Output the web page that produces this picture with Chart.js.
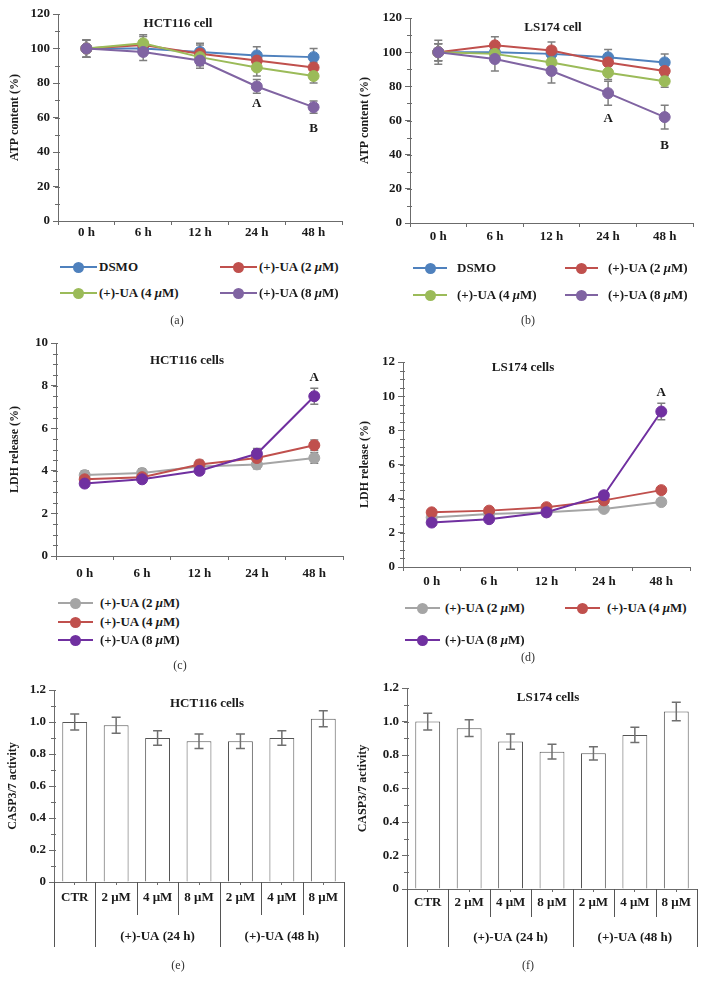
<!DOCTYPE html>
<html>
<head>
<meta charset="utf-8">
<script src="https://cdn.jsdelivr.net/npm/chart.js@4.4.0/dist/chart.umd.min.js"></script>
<style>
body { margin: 0; background: #fff; width: 703px; height: 991px; position: relative; overflow: hidden; font-family: "Liberation Serif", "Times New Roman", serif; }
canvas { position: absolute; }
.txt { position: absolute; font-weight: bold; font-size: 13px; color: #1a1a1a; white-space: nowrap; transform: translate(-50%, -50%); }
.cap { position: absolute; font-size: 12px; color: #333; white-space: nowrap; transform: translate(-50%, -50%); }
.lgline { position: absolute; height: 2px; }
.lgdot { position: absolute; width: 11px; height: 11px; border-radius: 50%; }
.lgtext { position: absolute; font-weight: bold; font-size: 13px; color: #1a1a1a; white-space: nowrap; transform: translateY(-50%); }
</style>
</head>
<body>
<canvas id="chartA" width="350" height="245" style="left:0;top:0"></canvas>
<canvas id="chartB" width="353" height="248" style="left:350px;top:0"></canvas>
<canvas id="chartC" width="350" height="265" style="left:0;top:320px"></canvas>
<canvas id="chartD" width="353" height="275" style="left:350px;top:320px"></canvas>
<canvas id="chartE" width="350" height="310" style="left:0;top:650px"></canvas>
<canvas id="chartF" width="353" height="310" style="left:350px;top:650px"></canvas>

<script>
const FONT = '"Liberation Serif", "Times New Roman", serif';
const INK = '#1a1a1a';
const AXIS = '#6b6b6b';

// categories
const hours = ['0 h', '6 h', '12 h', '24 h', '48 h'];
const doses = ['CTR', '2 μM', '4 μM', '8 μM', '2 μM', '4 μM', '8 μM'];
const doseGroups = ['(+)-UA (24 h)', '(+)-UA (48 h)'];
const doseGroupSpans = [[1, 4], [4, 7]];

const atpNames = ['DSMO', '(+)-UA (2 μM)', '(+)-UA (4 μM)', '(+)-UA (8 μM)'];
const ldhNames = ['(+)-UA (2 μM)', '(+)-UA (4 μM)', '(+)-UA (8 μM)'];

// (a) ATP content, HCT116
const atpHctDsmo = [100, 100, 98, 96, 95];
const atpHctUa2 = [100, 102, 97, 93, 89];
const atpHctUa4 = [100, 103, 95, 89, 84];
const atpHctUa8 = [100, 98, 93, 78, 66];
const atpHctErrDsmo = [5, 4, 5, 5, 5];
const atpHctErrUa2 = [5, 5, 5, 4, 3];
const atpHctErrUa4 = [5, 5, 5, 5, 4];
const atpHctErrUa8 = [5, 5, 4.5, 4, 3.5];

// (b) ATP content, LS174
const atpLsDsmo = [100, 100, 99, 97, 94];
const atpLsUa2 = [100, 104, 101, 94, 89];
const atpLsUa4 = [100, 99, 94, 88, 83];
const atpLsUa8 = [100, 96, 89, 76, 62];
const atpLsErrDsmo = [5, 4, 4, 4.5, 5];
const atpLsErrUa2 = [5, 5, 5, 4, 3];
const atpLsErrUa4 = [5, 4, 4, 4, 3.5];
const atpLsErrUa8 = [7, 7, 7, 7, 7];

// (c) LDH release, HCT116
const ldhHctUa2 = [3.8, 3.9, 4.2, 4.3, 4.6];
const ldhHctUa4 = [3.6, 3.7, 4.3, 4.6, 5.2];
const ldhHctUa8 = [3.4, 3.6, 4.0, 4.8, 7.5];
const ldhHctErrUa2 = [0.2, 0.2, 0.2, 0.2, 0.25];
const ldhHctErrUa4 = [0.2, 0.2, 0.2, 0.2, 0.25];
const ldhHctErrUa8 = [0.15, 0.15, 0.15, 0.25, 0.37];

// (d) LDH release, LS174
const ldhLsUa2 = [2.9, 3.1, 3.2, 3.4, 3.8];
const ldhLsUa4 = [3.2, 3.3, 3.5, 3.9, 4.5];
const ldhLsUa8 = [2.6, 2.8, 3.2, 4.2, 9.1];
const ldhLsErrUa2 = [0.15, 0.15, 0.15, 0.15, 0.18];
const ldhLsErrUa4 = [0.15, 0.15, 0.15, 0.15, 0.2];
const ldhLsErrUa8 = [0.12, 0.12, 0.12, 0.2, 0.48];

// (e) / (f) CASP3/7 activity
const caspHct = [1.0, 0.98, 0.90, 0.88, 0.88, 0.90, 1.02];
const caspHctErr = [0.05, 0.05, 0.045, 0.045, 0.045, 0.045, 0.05];
const caspLs = [1.0, 0.96, 0.88, 0.82, 0.81, 0.92, 1.06];
const caspLsErr = [0.05, 0.05, 0.045, 0.044, 0.04, 0.045, 0.055];

const BLUE = '#4f81bd', RED = '#c0504d', GREEN = '#9bbb59', PURPLE = '#8064a2';
const GRAY = '#a5a5a5', DEEP = '#7030a0';

Chart.defaults.font.family = FONT;
Chart.defaults.color = INK;

function drawErrors(chart, opts) {
  const ctx = chart.ctx;
  const y = chart.scales.y;
  ctx.save();
  ctx.strokeStyle = opts.color;
  ctx.lineWidth = opts.width;
  chart.data.datasets.forEach((ds, i) => {
    if (!ds.err) return;
    chart.getDatasetMeta(i).data.forEach((el, j) => {
      const v = ds.data[j], e = ds.err[j];
      const top = y.getPixelForValue(v + e);
      const bot = y.getPixelForValue(v - e);
      ctx.beginPath();
      ctx.moveTo(el.x, top); ctx.lineTo(el.x, bot);
      ctx.moveTo(el.x - opts.cap, top); ctx.lineTo(el.x + opts.cap, top);
      ctx.moveTo(el.x - opts.cap, bot); ctx.lineTo(el.x + opts.cap, bot);
      ctx.stroke();
    });
  });
  ctx.restore();
}

const errorBars = {
  id: 'errorBars',
  beforeDatasetsDraw(chart, args, opts) { if (!opts.front) drawErrors(chart, opts); },
  afterDatasetsDraw(chart, args, opts) { if (opts.front) drawErrors(chart, opts); }
};

const minorTicks = {
  id: 'minorTicks',
  afterDraw(chart, args, opts) {
    const y = chart.scales.y, ctx = chart.ctx;
    const x = chart.chartArea.left;
    const n = Math.round((y.max - y.min) / opts.step);
    ctx.save();
    ctx.strokeStyle = AXIS;
    ctx.lineWidth = 1;
    for (let k = 0; k <= n; k++) {
      const py = Math.round(y.getPixelForValue(y.min + k * opts.step)) + 0.5;
      ctx.beginPath(); ctx.moveTo(x - 3, py); ctx.lineTo(x + 2, py); ctx.stroke();
    }
    ctx.restore();
  }
};

const marks = {
  id: 'marks',
  afterDatasetsDraw(chart, args, opts) {
    const ctx = chart.ctx;
    ctx.save();
    ctx.fillStyle = INK;
    ctx.font = 'bold 13px ' + FONT;
    ctx.textAlign = 'center';
    ctx.textBaseline = 'middle';
    (opts.items || []).forEach(m => {
      const pt = chart.getDatasetMeta(m.set).data[m.index];
      ctx.fillText(m.text, pt.x, pt.y + m.dy);
    });
    ctx.restore();
  }
};

const groupAxis = {
  id: 'groupAxis',
  afterDraw(chart, args, opts) {
    if (!opts.cuts) return;
    const x = chart.scales.x, area = chart.chartArea, ctx = chart.ctx;
    const n = chart.data.labels.length;
    const edge = i => i === 0 ? area.left : i === n ? area.right
      : (x.getPixelForValue(i - 1) + x.getPixelForValue(i)) / 2;
    ctx.save();
    ctx.strokeStyle = '#555';
    ctx.lineWidth = 1;
    for (let i = 0; i <= n; i++) {
      const drop = opts.cuts.includes(i) ? opts.longDrop : opts.shortDrop;
      const px = Math.round(edge(i)) + 0.5;
      ctx.beginPath(); ctx.moveTo(px, area.bottom); ctx.lineTo(px, area.bottom + drop); ctx.stroke();
    }
    ctx.fillStyle = INK;
    ctx.font = 'bold 13px ' + FONT;
    ctx.textAlign = 'center';
    ctx.textBaseline = 'middle';
    doseGroupSpans.forEach((s, g) => {
      ctx.fillText(doseGroups[g], (edge(s[0]) + edge(s[1])) / 2, area.bottom + opts.labelDy);
    });
    ctx.restore();
  }
};

function tickFont() { return { family: FONT, size: 13, weight: 'bold' }; }
function titleFont() { return { family: FONT, size: 12, weight: 'bold' }; }

function scalesFor(cfg, barMode) {
  return {
    x: {
      offset: true,
      grid: { offset: !barMode, drawOnChartArea: false, tickLength: barMode ? 3 : 4, tickColor: AXIS },
      border: { color: AXIS },
      ticks: { color: INK, font: tickFont(), padding: cfg.xPad, maxRotation: 0, autoSkip: false },
      afterFit: s => { s.height = cfg.h - cfg.bottom; }
    },
    y: {
      min: 0, max: cfg.max,
      grid: { drawOnChartArea: false, tickLength: 5, tickColor: AXIS },
      border: { color: AXIS },
      ticks: { stepSize: cfg.step, color: INK, font: tickFont(), padding: 3 },
      title: { display: true, text: cfg.title, color: INK, font: titleFont(), padding: { top: cfg.titlePad, bottom: 0 } },
      afterFit: s => { s.width = cfg.yW; }
    }
  };
}

function lineSet(label, data, err, color, order) {
  return {
    label, data, err, order,
    borderColor: color, backgroundColor: color,
    pointBackgroundColor: color, pointBorderColor: color,
    pointRadius: 5.5, pointBorderWidth: 1, borderWidth: 2, tension: 0
  };
}

function lineChart(id, cfg) {
  return new Chart(document.getElementById(id), {
    type: 'line',
    data: { labels: hours, datasets: cfg.sets },
    options: {
      responsive: false, animation: false,
      layout: { padding: { top: cfg.top, right: cfg.right, left: 0, bottom: 0 } },
      plugins: {
        legend: { display: false }, tooltip: { enabled: false },
        errorBars: { color: '#7f7f7f', width: 1.5, cap: 4, front: false },
        minorTicks: { step: cfg.minor },
        marks: { items: cfg.marks }
      },
      scales: scalesFor(cfg, false)
    },
    plugins: [errorBars, minorTicks, marks]
  });
}

function barChart(id, cfg) {
  return new Chart(document.getElementById(id), {
    type: 'bar',
    data: {
      labels: doses,
      datasets: [{
        data: cfg.data, err: cfg.err,
        backgroundColor: '#ffffff', borderColor: '#555', borderWidth: 1,
        barPercentage: 0.6, categoryPercentage: 1
      }]
    },
    options: {
      responsive: false, animation: false,
      layout: { padding: { top: cfg.top, right: cfg.right, left: 0, bottom: 0 } },
      plugins: {
        legend: { display: false }, tooltip: { enabled: false },
        errorBars: { color: '#6f6f6f', width: 1.5, cap: 4.5, front: true },
        minorTicks: { step: 0.1 },
        groupAxis: { cuts: [0, 1, 4, 7], longDrop: cfg.longDrop, shortDrop: cfg.shortDrop, labelDy: cfg.labelDy }
      },
      scales: scalesFor(cfg, true)
    },
    plugins: [errorBars, minorTicks, groupAxis]
  });
}

lineChart('chartA', {
  h: 245, bottom: 221, top: 14, right: 8, yW: 58, xPad: 0, titlePad: 8,
  max: 120, step: 20, minor: 10, title: 'ATP content (%)',
  sets: [
    lineSet(atpNames[0], atpHctDsmo, atpHctErrDsmo, BLUE, 4),
    lineSet(atpNames[1], atpHctUa2, atpHctErrUa2, RED, 3),
    lineSet(atpNames[2], atpHctUa4, atpHctErrUa4, GREEN, 2),
    lineSet(atpNames[3], atpHctUa8, atpHctErrUa8, PURPLE, 1)
  ],
  marks: [{ set: 3, index: 3, text: 'A', dy: 17 }, { set: 3, index: 4, text: 'B', dy: 21 }]
});

lineChart('chartB', {
  h: 248, bottom: 223, top: 18, right: 10, yW: 60, xPad: 2, titlePad: 8,
  max: 120, step: 20, minor: 10, title: 'ATP content (%)',
  sets: [
    lineSet(atpNames[0], atpLsDsmo, atpLsErrDsmo, BLUE, 4),
    lineSet(atpNames[1], atpLsUa2, atpLsErrUa2, RED, 3),
    lineSet(atpNames[2], atpLsUa4, atpLsErrUa4, GREEN, 2),
    lineSet(atpNames[3], atpLsUa8, atpLsErrUa8, PURPLE, 1)
  ],
  marks: [{ set: 3, index: 3, text: 'A', dy: 25 }, { set: 3, index: 4, text: 'B', dy: 29 }]
});

lineChart('chartC', {
  h: 265, bottom: 236, top: 23, right: 7, yW: 56, xPad: 6, titlePad: 8,
  max: 10, step: 2, minor: 0.5, title: 'LDH release (%)',
  sets: [
    lineSet(ldhNames[0], ldhHctUa2, ldhHctErrUa2, GRAY, 3),
    lineSet(ldhNames[1], ldhHctUa4, ldhHctErrUa4, RED, 2),
    lineSet(ldhNames[2], ldhHctUa8, ldhHctErrUa8, DEEP, 1)
  ],
  marks: [{ set: 2, index: 4, text: 'A', dy: -19 }]
});

lineChart('chartD', {
  h: 275, bottom: 247, top: 42, right: 13, yW: 53, xPad: 3, titlePad: 8,
  max: 12, step: 2, minor: 0.5, title: 'LDH release (%)',
  sets: [
    lineSet(ldhNames[0], ldhLsUa2, ldhLsErrUa2, GRAY, 3),
    lineSet(ldhNames[1], ldhLsUa4, ldhLsErrUa4, RED, 2),
    lineSet(ldhNames[2], ldhLsUa8, ldhLsErrUa8, DEEP, 1)
  ],
  marks: [{ set: 2, index: 4, text: 'A', dy: -19 }]
});

barChart('chartE', {
  h: 310, bottom: 232, top: 40, right: 6, yW: 54, xPad: 5, titlePad: 6,
  max: 1.2, step: 0.2, title: 'CASP3/7 activity',
  data: caspHct, err: caspHctErr, longDrop: 65, shortDrop: 33, labelDy: 55
});

barChart('chartF', {
  h: 310, bottom: 239, top: 38, right: 6, yW: 57, xPad: 3, titlePad: 6,
  max: 1.2, step: 0.2, title: 'CASP3/7 activity',
  data: caspLs, err: caspLsErr, longDrop: 58, shortDrop: 28, labelDy: 49
});

// titles and panel letters
function addText(cls, text, x, y) {
  const d = document.createElement('div');
  d.className = cls;
  d.textContent = text;
  d.style.left = x + 'px';
  d.style.top = y + 'px';
  document.body.appendChild(d);
}
addText('txt', 'HCT116 cell', 178, 23);
addText('txt', 'LS174 cell', 553, 27);
addText('txt', 'HCT116 cells', 187, 360);
addText('txt', 'LS174 cells', 523, 367);
addText('txt', 'HCT116 cells', 207, 703);
addText('txt', 'LS174 cells', 548, 697);
addText('cap', '(a)', 177, 320);
addText('cap', '(b)', 528, 320);
addText('cap', '(c)', 180, 665);
addText('cap', '(d)', 528, 657);
addText('cap', '(e)', 178, 965);
addText('cap', '(f)', 528, 965);

// legends
function legendItem(x1, x2, tx, y, color, label) {
  const line = document.createElement('div');
  line.className = 'lgline';
  line.style.cssText = `left:${x1}px;top:${y - 1}px;width:${x2 - x1}px;background:${color}`;
  const dot = document.createElement('div');
  dot.className = 'lgdot';
  dot.style.cssText = `left:${(x1 + x2) / 2 - 5.5}px;top:${y - 5.5}px;background:${color}`;
  const t = document.createElement('div');
  t.className = 'lgtext';
  t.style.left = tx + 'px';
  t.style.top = y + 'px';
  t.innerHTML = label.replace('μ', '<i>μ</i>');
  document.body.append(line, dot, t);
}
legendItem(60, 97, 99, 267, BLUE, atpNames[0]);
legendItem(220, 257, 259, 267, RED, atpNames[1]);
legendItem(60, 97, 99, 293, GREEN, atpNames[2]);
legendItem(220, 257, 259, 293, PURPLE, atpNames[3]);

legendItem(413, 447, 457, 268, BLUE, atpNames[0]);
legendItem(565, 598, 608, 268, RED, atpNames[1]);
legendItem(413, 447, 457, 295, GREEN, atpNames[2]);
legendItem(565, 598, 608, 295, PURPLE, atpNames[3]);

legendItem(58, 93, 100, 603, GRAY, ldhNames[0]);
legendItem(58, 93, 100, 622, RED, ldhNames[1]);
legendItem(58, 93, 100, 640, DEEP, ldhNames[2]);

legendItem(405, 440, 445, 608, GRAY, ldhNames[0]);
legendItem(565, 600, 607, 608, RED, ldhNames[1]);
legendItem(405, 440, 445, 640, DEEP, ldhNames[2]);
</script>
</body>
</html>
